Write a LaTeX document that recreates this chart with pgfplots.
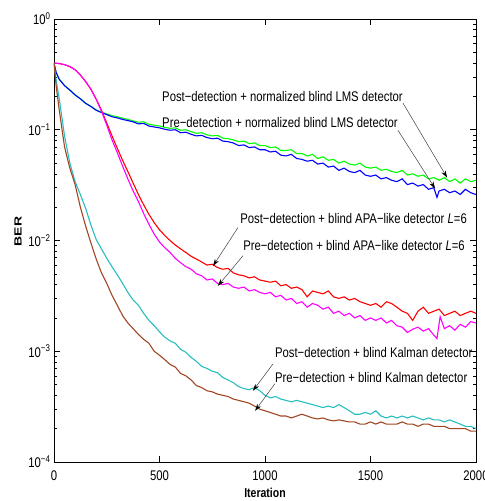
\documentclass[border=0pt]{standalone}
\usepackage{fontspec}
\setmainfont{Liberation Sans}[FakeStretch=0.81]
\usepackage{pgfplots}
\pgfplotsset{compat=1.18}
\usepackage{pgfplotstable}
\usetikzlibrary{arrows.meta,calc}

\definecolor{gLMS}{RGB}{0,255,0}
\definecolor{bLMS}{RGB}{0,0,255}
\definecolor{rAPA}{RGB}{255,0,0}
\definecolor{mAPA}{RGB}{255,0,255}
\definecolor{cKal}{RGB}{40,190,190}
\definecolor{bKal}{RGB}{160,70,35}

% post-detection + normalized blind LMS
\pgfplotstableread{
x y
0 0.400
10 0.330
25 0.286
50 0.251
75 0.229
100 0.207
125 0.191
150 0.174
175 0.163
200 0.151
225 0.144
250 0.139
275 0.134
300 0.131
325 0.127
350 0.124
375 0.120
400 0.117
425 0.118
450 0.112
475 0.110
500 0.108
525 0.105
550 0.103
575 0.104
600 0.099
625 0.100
650 0.096
675 0.093
700 0.094
725 0.090
750 0.088
775 0.089
800 0.084
825 0.083
850 0.081
875 0.078
900 0.079
925 0.075
950 0.076
975 0.072
1000 0.072
1025 0.069
1050 0.070
1075 0.065
1100 0.065
1125 0.066
1150 0.061
1175 0.061
1200 0.058
1225 0.060
1250 0.055
1275 0.057
1300 0.053
1325 0.054
1350 0.050
1375 0.052
1400 0.049
1425 0.048
1450 0.050
1475 0.046
1500 0.045
1525 0.046
1550 0.043
1575 0.044
1600 0.042
1625 0.041
1650 0.043
1675 0.039
1700 0.040
1725 0.038
1750 0.039
1775 0.036
1800 0.037
1825 0.035
1850 0.037
1875 0.034
1900 0.036
1925 0.033
1950 0.036
1975 0.034
2000 0.035
}\lmspost

% pre-detection + normalized blind LMS
\pgfplotstableread{
x y
0 0.400
10 0.330
25 0.285
50 0.250
75 0.228
100 0.206
125 0.190
150 0.173
175 0.162
200 0.150
225 0.143
250 0.137
275 0.131
300 0.128
325 0.124
350 0.121
375 0.118
400 0.113
425 0.114
450 0.108
475 0.106
500 0.104
525 0.101
550 0.099
575 0.100
600 0.094
625 0.095
650 0.091
675 0.088
700 0.089
725 0.085
750 0.083
775 0.084
800 0.079
825 0.078
850 0.076
875 0.072
900 0.073
925 0.069
950 0.070
975 0.066
1000 0.066
1025 0.063
1050 0.064
1075 0.059
1100 0.058
1125 0.060
1150 0.055
1175 0.054
1200 0.052
1225 0.053
1250 0.049
1275 0.050
1300 0.046
1325 0.047
1350 0.043
1375 0.045
1400 0.042
1425 0.041
1450 0.043
1475 0.039
1500 0.038
1525 0.039
1550 0.036
1575 0.037
1600 0.035
1625 0.034
1650 0.036
1675 0.032
1700 0.033
1725 0.031
1750 0.032
1775 0.029
1800 0.030
1815 0.0245
1825 0.028
1850 0.029
1875 0.027
1900 0.028
1925 0.026
1950 0.029
1975 0.027
2000 0.026
}\lmspre

% post-detection + blind APA-like
\pgfplotstableread{
x y
0 0.400
25 0.396
50 0.387
75 0.372
100 0.348
125 0.312
150 0.272
175 0.232
200 0.189
225 0.150
250 0.115
275 0.088
300 0.068
325 0.053
350 0.042
375 0.033
400 0.026
425 0.0210
450 0.0172
475 0.0145
500 0.0125
525 0.0111
550 0.0100
575 0.0091
600 0.0084
625 0.0078
650 0.0072
675 0.0068
700 0.0064
725 0.0060
750 0.0061
775 0.0057
800 0.0055
825 0.0056
850 0.0051
875 0.0049
900 0.0048
925 0.0046
950 0.0047
975 0.0044
1000 0.0043
1025 0.0042
1050 0.0043
1075 0.0039
1100 0.0040
1125 0.0037
1150 0.0038
1175 0.0036
1200 0.0031
1225 0.0035
1250 0.0034
1275 0.0033
1300 0.0035
1325 0.0031
1350 0.0030
1375 0.0031
1400 0.0029
1425 0.0030
1450 0.0028
1475 0.0027
1500 0.0026
1525 0.0027
1550 0.0025
1575 0.0028
1600 0.0027
1625 0.0025
1650 0.0023
1675 0.0022
1700 0.0019
1725 0.0023
1750 0.0025
1775 0.0022
1800 0.0023
1825 0.0024
1850 0.0021
1875 0.0022
1900 0.0023
1925 0.0021
1950 0.0022
1975 0.0023
2000 0.0022
}\apapost

% pre-detection + blind APA-like
\pgfplotstableread{
x y
0 0.400
25 0.396
50 0.387
75 0.372
100 0.348
125 0.312
150 0.272
175 0.232
200 0.188
225 0.147
250 0.110
275 0.081
300 0.062
325 0.047
350 0.036
375 0.028
400 0.0225
425 0.0175
450 0.0140
475 0.0114
500 0.0097
525 0.0086
550 0.0078
575 0.0069
600 0.0063
625 0.0058
650 0.0055
675 0.0050
700 0.0048
725 0.0044
750 0.0045
775 0.0041
800 0.0040
825 0.0041
850 0.0038
875 0.0037
900 0.0038
925 0.0035
950 0.0036
975 0.0034
1000 0.0033
1025 0.0034
1050 0.0031
1075 0.0032
1100 0.0029
1125 0.0030
1150 0.0027
1175 0.0028
1200 0.0025
1225 0.0027
1250 0.0026
1275 0.0024
1300 0.0025
1325 0.0022
1350 0.0023
1375 0.0021
1400 0.0022
1425 0.0020
1450 0.0021
1475 0.0019
1500 0.0020
1525 0.0019
1550 0.0020
1575 0.0018
1600 0.0019
1625 0.0017
1650 0.00165
1675 0.00148
1700 0.00158
1725 0.00165
1750 0.00152
1775 0.00160
1800 0.00140
1815 0.00130
1830 0.00205
1850 0.00160
1875 0.00170
1900 0.00155
1925 0.00175
1950 0.00165
1975 0.00185
2000 0.00180
}\apapre

% post-detection + blind Kalman
\pgfplotstableread{
x y
0 0.400
10 0.280
25 0.190
50 0.088
75 0.050
100 0.034
125 0.026
150 0.0195
175 0.0138
200 0.0102
225 0.0084
250 0.0069
275 0.0058
300 0.0049
325 0.0041
350 0.0034
375 0.0029
400 0.0026
425 0.0022
450 0.0019
475 0.0017
500 0.00150
525 0.00134
550 0.00124
575 0.00118
600 0.00104
625 0.00098
650 0.00088
675 0.00081
700 0.00073
725 0.00070
750 0.00066
775 0.00064
800 0.00058
825 0.00055
850 0.00052
875 0.00048
900 0.00046
925 0.00045
950 0.00047
975 0.00044
1000 0.00040
1025 0.00038
1050 0.00039
1075 0.00037
1100 0.00036
1125 0.00035
1150 0.00036
1175 0.00035
1200 0.00034
1225 0.00033
1250 0.00032
1275 0.00031
1300 0.00032
1325 0.00031
1350 0.00033
1375 0.00031
1400 0.00029
1425 0.00027
1450 0.00027
1475 0.00028
1500 0.00027
1525 0.00029
1550 0.00026
1575 0.00025
1600 0.00026
1625 0.00025
1650 0.00026
1675 0.00025
1700 0.00026
1725 0.00025
1750 0.00024
1775 0.00025
1800 0.00024
1825 0.00024
1850 0.00023
1875 0.00024
1900 0.00023
1925 0.00022
1950 0.00021
1975 0.00021
2000 0.00020
}\kalpost

% pre-detection + blind Kalman
\pgfplotstableread{
x y
0 0.400
10 0.250
25 0.150
50 0.070
75 0.045
100 0.032
125 0.020
150 0.0135
175 0.0095
200 0.0068
225 0.0051
250 0.0041
275 0.0032
300 0.0026
325 0.0021
350 0.0018
375 0.0016
400 0.00142
425 0.00128
450 0.00118
475 0.00100
500 0.00092
525 0.00084
550 0.00076
575 0.00072
600 0.00063
625 0.00060
650 0.00055
675 0.00049
700 0.00047
725 0.00044
750 0.00043
775 0.00041
800 0.00040
825 0.00039
850 0.00037
875 0.00036
900 0.00035
925 0.00034
950 0.00032
975 0.00030
1000 0.00029
1025 0.00028
1050 0.00027
1075 0.00026
1100 0.00026
1125 0.00025
1150 0.00026
1175 0.00027
1200 0.00026
1225 0.00025
1250 0.000245
1275 0.00025
1300 0.00024
1325 0.000235
1350 0.00024
1375 0.000235
1400 0.00023
1425 0.00023
1450 0.00022
1475 0.00022
1500 0.00023
1525 0.00022
1550 0.00023
1575 0.00022
1600 0.00022
1625 0.00022
1650 0.00023
1675 0.00022
1700 0.00022
1725 0.00021
1750 0.00022
1775 0.00022
1800 0.00021
1825 0.00021
1850 0.00021
1875 0.00020
1900 0.00020
1925 0.00020
1950 0.00020
1975 0.00019
2000 0.00019
}\kalpre

\begin{document}
\begin{tikzpicture}
\begin{axis}[
    name=ax,
    scale only axis,
    width=422bp, height=443bp,
    ymode=log,
    xmin=0, xmax=2000,
    ymin=1e-4, ymax=1,
    xtick={0,500,...,2000},
    ytick={1e-4,1e-3,1e-2,1e-1,1},
    yticklabels={10\textsuperscript{−4},10\textsuperscript{−3},10\textsuperscript{−2},10\textsuperscript{−1},10\textsuperscript{0}},
    /pgf/number format/assume math mode=true,
    /pgf/number format/set thousands separator={},
    tick align=inside,
    major tick length=6bp,
    minor tick length=3.5bp,
    axis line style={line width=0.7bp},
    every tick/.style={line width=0.6bp, black},
    tick label style={font=\fontsize{14}{16}\selectfont},
    xticklabel style={yshift=-5bp},
    xlabel={\bfseries Iteration},
    xlabel style={yshift=-1bp},
    ylabel={\scalebox{1.33}[0.8]{\bfseries BER}},
    ylabel style={xshift=9bp},
    label style={font=\fontsize{13}{15}\selectfont},
    every axis plot/.append style={line width=1.1bp},
]
\addplot[color=gLMS, no markers] table {\lmspost};
\addplot[color=bLMS, no markers] table {\lmspre};
\addplot[color=rAPA, no markers] table {\apapost};
\addplot[color=mAPA, no markers] table {\apapre};
\addplot[color=cKal, no markers] table {\kalpost};
\addplot[color=bKal, no markers] table {\kalpre};

\begin{scope}[every node/.style={font=\fontsize{14}{16}\selectfont, anchor=west, inner sep=0pt}]
\node at (axis cs:512,0.200) {Post−detection + normalized blind LMS detector};
\node at (axis cs:512,0.116) {Pre−detection + normalized blind LMS detector};
\node at (axis cs:882,0.0158) {Post−detection + blind APA−like detector \textit{L}=6};
\node at (axis cs:896,0.0090) {Pre−detection + blind APA−like detector \textit{L}=6};
\node at (axis cs:1047,0.00097) {Post−detection + blind Kalman detector};
\node at (axis cs:1047,0.00058) {Pre−detection + blind Kalman detector};
\end{scope}

\begin{scope}[black!75, line width=0.5bp, -{Stealth[length=7bp,width=4.5bp,black]}]
\draw (axis cs:1654,0.174) -- (axis cs:1863,0.037);
\draw (axis cs:1630,0.099) -- (axis cs:1806,0.0295);
\draw (axis cs:872,0.0131) -- (axis cs:754,0.0059);
\draw (axis cs:896,0.0073) -- (axis cs:777,0.0039);
\draw (axis cs:1038,0.00077) -- (axis cs:943,0.00044);
\draw (axis cs:1047,0.00051) -- (axis cs:953,0.00029);
\end{scope}
\end{axis}
\pgfresetboundingbox
\useasboundingbox ($(ax.south west)+(-54bp,-39bp)$) rectangle ($(ax.north east)+(9bp,19bp)$);
\end{tikzpicture}
\end{document}
